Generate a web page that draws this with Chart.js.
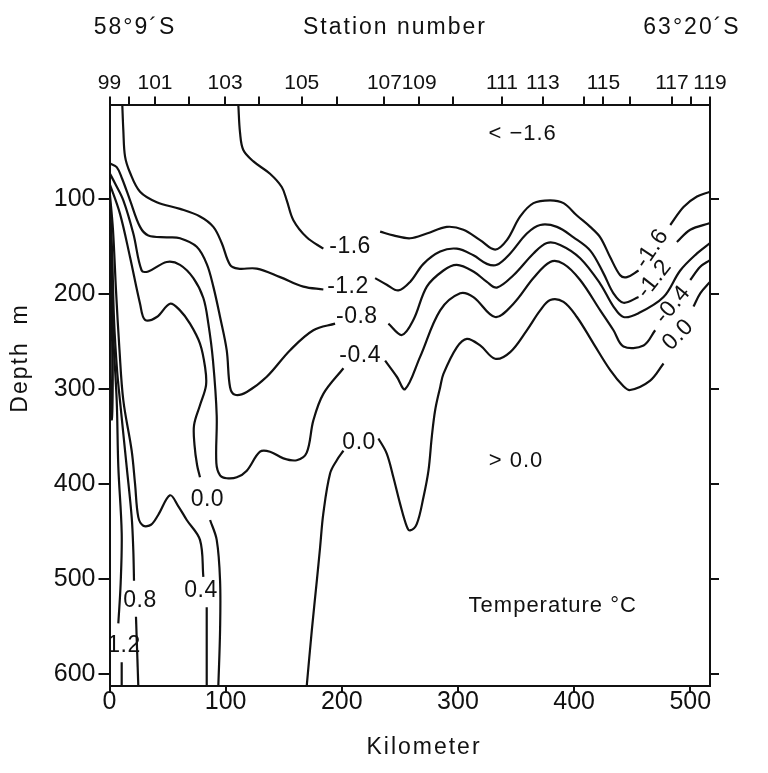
<!DOCTYPE html>
<html>
<head>
<meta charset="utf-8">
<script src="https://cdn.jsdelivr.net/npm/chart.js@4"></script>
<style>
  html, body { margin: 0; padding: 0; background: #fff; }
  canvas { display: block; }
</style>
</head>
<body>
<canvas id="sectionChart" width="768" height="773"></canvas>
<script>
/**************************************
 * TEMPERATURE SECTION (contours)
 **************************************/

/* ---------- AXES ---------- */
const KM_TICKS = [0, 100, 200, 300, 400, 500];
const DEPTH_TICKS = [100, 200, 300, 400, 500, 600];

const STATION_KM = [0, 17.1, 39.2, 68.7, 99.5, 129, 165.5, 196.2, 236.7, 266.6,
  295.6, 337.8, 373.1, 408.7, 425.3, 448.3, 484.2, 500.6, 517];
const STATION_LABELS = ["99", "", "101", "", "103", "", "105", "", "107", "109",
  "", "111", "113", "", "115", "", "117", "", "119"];

/* ---------- CONTOURS: [km, depth m], null = gap for the label ---------- */
const T_M16 = [[110.9,0],[112.4,30],[115.2,48],[123.9,60],[138.2,73],[148.3,87],[152.6,101],
  [158.3,122],[169.8,140],[184.1,152], null,
  [233,134],[244.4,138],[258.8,141],[273.2,136],[290.4,129],[304.7,132],[319.1,143],[332,153],
  [342.1,143],[353.6,118],[365,104],[379.4,101],[390.9,104],[402.4,117],[413.9,129],[422.5,140],
  [431.1,161],[439.7,180],[445.5,182],[455.5,175], null,
  [482.8,127],[494.2,108],[505.8,97],[517,92]];

const T_M12 = [[11,0],[11.9,27],[13.4,55],[17.7,72],[26.3,92],[40.7,103],[60.7,110],[77.9,118],
  [89.4,129],[96.6,146],[103.8,169],[110.9,173],[126.8,173],[146.9,182],[166.9,192],[184.1,195], null,
  [228.7,183],[238.7,190],[248.7,196],[258.8,187],[270.3,168],[284.7,155],[299,152],[313.3,159],
  [324.9,168],[333.5,169],[345,157],[359.3,136],[370.8,127],[385.2,129],[399.5,140],[413.9,154],
  [425.3,178],[433.9,199],[442.5,209],[455.5,203], null,
  [488.5,145],[500,132],[517,125]];

const T_M08 = [[0,62],[6.2,66],[10.8,78],[17.7,101],[26.3,129],[33.4,138],[49.3,140],[60.7,141],
  [75.1,150],[83.7,168],[89.4,192],[95.2,224],[100.9,259],[103.8,298],[108.1,306],[118.2,303],
  [135.4,287],[155.5,259],[175.5,238],[194.2,231], null,
  [240.1,231],[251.7,243],[261.7,227],[273.2,192],[287.5,175],[299,169],[313.3,176],[324.9,187],
  [333.5,193],[347.8,180],[365,157],[376.6,146],[388,148],[405.2,162],[422.5,189],[433.9,213],
  [442.5,224],[455.5,220],[477,203],[491.4,175],[505.8,157],[517,146]];

const T_M04 = [[0,72],[4.7,83],[11.9,101],[20.5,136],[27.7,175],[33.4,176],[49.3,166],[60.7,169],
  [72.2,183],[80.8,204],[85.1,231],[89.1,270],[92.3,328],[92,378],[95.2,391],[100.9,394],
  [109.6,393],[118.2,386],[129.6,366],[138.2,366],[149.7,373],[161.2,375],[169.8,367],[175.5,333],
  [184.1,305],[201.4,278], null,
  [237.3,270],[247.4,287],[254.5,300],[267.4,266],[284.7,217],[301.9,199],[313.3,203],[332,224],
  [347.8,210],[365,183],[379.4,166],[390.9,168],[405.2,185],[422.5,217],[433.9,238],[442.5,255],
  [459.8,254],[469.8,238], null,
  [500,185],[508.6,171],[517,164]];

const T_00_WEST = [[0,83],[9,115],[17.7,161],[26.3,210],[30.6,227],[40.7,224],[52.1,210],[60.7,217],
  [69.3,231],[77.9,252],[82.3,277],[83.1,296],[77.9,317],[72.8,338],[73.2,359],[75.4,380],[77.9,393], null,
  [86.6,438],[92.3,459],[95.2,502],[95.2,554],[93.7,613]];

const T_00_EAST = [[169.8,613],[174.2,554],[178.5,502],[181.3,467],[184.1,431],[189.9,389],[195.7,375],
  [201.4,365], null,
  [231.5,352],[238.7,368],[244.4,393],[250.2,421],[256,445],[258.8,449],[264.6,442],[270.3,414],
  [274.6,386],[277.5,350],[280.4,322],[284.7,298],[287.5,284],[299,256],[307.7,247],[319.1,254],
  [332,268],[345,261],[359.3,238],[370.8,217],[379.4,206],[390.9,208],[402.4,224],[416.7,252],
  [431.1,280],[442.5,297],[448.3,301],[465.5,291],[477,273], null,
  [502.8,213],[508.6,199],[517,187]];

const T_P04 = [[0,90],[3,132],[5.6,196],[8.6,259],[11.9,312],[19.1,365],[22,400],[24.8,435],
  [29.1,444],[35.7,443],[41.8,433],[52.1,412],[59,423],[66.5,438],[77.9,459],[80.8,498], null,
  [83.7,530],[83.7,613]];

const T_P08 = [[0,96],[2.2,154],[3.9,227],[6.5,280],[9,312],[14.8,382],[19.1,435],[20.5,470],
  [21.1,502], null, [22.8,540],[24.8,613]];

const T_P12 = [[0,101],[1.7,164],[3,238],[6.2,312],[7.6,382],[10.5,452],[9.6,505],[7.6,547], null,
  [10.5,588],[10.5,613]];

const T_P16 = [[0.4,130],[1.6,175],[2.4,235],[2.8,290],[2,332],[1,300],[0.6,235],[0.4,130]];

/* ---------- LABELS ON THE SECTION ---------- */
const CONTOUR_LABELS = [
  { text: "-1.6", km: 207.1, depth: 150, angle: 0 },
  { text: "-1.2", km: 205.3, depth: 192, angle: 0 },
  { text: "-0.8", km: 212.9, depth: 224, angle: 0 },
  { text: "-0.4", km: 215.8, depth: 265, angle: 0 },
  { text: "0.0", km: 214.9, depth: 356, angle: 0 },
  { text: "0.0", km: 84.3, depth: 417, angle: 0 },
  { text: "0.4", km: 78.8, depth: 512, angle: 0 },
  { text: "0.8", km: 26.3, depth: 523, angle: 0 },
  { text: "1.2", km: 12.5, depth: 570, angle: 0 },
  { text: "-1.6", km: 467, depth: 152, angle: -56 },
  { text: "-1.2", km: 469, depth: 184, angle: -52 },
  { text: "-0.4", km: 485, depth: 211, angle: -50 },
  { text: "0.0", km: 489.6, depth: 243, angle: -45 }
];
const REGION_LABELS = [
  { text: "< \u22121.6", km: 355.7, depth: 31 },
  { text: "> 0.0", km: 350, depth: 376 },
  { text: "Temperature \u00b0C", km: 381.6, depth: 529 }
];

/* ---------- STYLE ---------- */
const INK = "#111";
const FONT = "'Liberation Sans', Arial, sans-serif";

/* ---------- BUILD DATASETS ---------- */
function splitSegments(points) {
  const segs = [[]];
  points.forEach(p => {
    if (p === null) segs.push([]);
    else segs[segs.length - 1].push({ x: p[0], y: p[1] });
  });
  return segs.filter(s => s.length > 1);
}

const datasets = [];
[T_M16, T_M12, T_M08, T_M04, T_00_WEST, T_00_EAST, T_P04, T_P08, T_P12, T_P16].forEach(c => {
  splitSegments(c).forEach(seg => {
    datasets.push({
      data: seg,
      showLine: true,
      borderColor: INK,
      borderWidth: 2.2,
      pointRadius: 0,
      tension: 0.35,
      fill: false
    });
  });
});

/* ---------- TEXT PLUGIN ---------- */
const textPlugin = {
  id: "sectionText",
  afterDraw(chart) {
    const { ctx } = chart;
    const x = chart.scales.x;
    const y = chart.scales.y;
    ctx.save();
    ctx.fillStyle = INK;
    ctx.textAlign = "center";
    ctx.textBaseline = "middle";

    ctx.font = "23px " + FONT;
    ctx.letterSpacing = "0.5px";
    CONTOUR_LABELS.forEach(l => {
      ctx.save();
      ctx.translate(x.getPixelForValue(l.km), y.getPixelForValue(l.depth));
      ctx.rotate(l.angle * Math.PI / 180);
      ctx.fillText(l.text, 0, 0);
      ctx.restore();
    });

    ctx.font = "22px " + FONT;
    ctx.letterSpacing = "1px";
    REGION_LABELS.forEach(l => {
      ctx.fillText(l.text, x.getPixelForValue(l.km), y.getPixelForValue(l.depth));
    });

    ctx.font = "23px " + FONT;
    ctx.letterSpacing = "2px";
    ctx.fillText("58\u00b09\u00b4S", 135, 28);
    ctx.fillText("Station number", 395, 28);
    ctx.fillText("63\u00b020\u00b4S", 692, 28);
    ctx.fillText("Kilometer", 424, 748);

    ctx.save();
    ctx.translate(21, 358);
    ctx.rotate(-Math.PI / 2);
    ctx.fillText("Depth  m", 0, 0);
    ctx.restore();

    ctx.restore();
  }
};

/* ---------- CHART ---------- */
const tickFont = { family: FONT, size: 25 };

new Chart(document.getElementById("sectionChart"), {
  type: "scatter",
  data: { datasets },
  options: {
    responsive: false,
    animation: false,
    events: [],
    layout: { padding: 0 },
    plugins: { legend: { display: false }, tooltip: { enabled: false } },
    scales: {
      x: {
        type: "linear", position: "bottom", min: 0, max: 517,
        afterBuildTicks: s => { s.ticks = KM_TICKS.map(v => ({ value: v })); },
        afterFit: s => { s.height = 87; },
        ticks: { font: tickFont, color: INK, padding: -6, maxRotation: 0, autoSkip: false },
        grid: { drawOnChartArea: false, tickLength: 7, tickColor: INK, lineWidth: 2 },
        border: { color: INK, width: 2 }
      },
      xs: {
        type: "linear", position: "top", min: 0, max: 517,
        afterBuildTicks: s => { s.ticks = STATION_KM.map(v => ({ value: v })); },
        afterFit: s => { s.height = 104.5; },
        ticks: {
          font: { family: FONT, size: 21 }, color: INK, padding: 1, maxRotation: 0, autoSkip: false,
          callback: (v, i) => STATION_LABELS[i]
        },
        grid: { drawOnChartArea: false, tickLength: 8, tickColor: INK, lineWidth: 2 },
        border: { color: INK, width: 2 }
      },
      y: {
        type: "linear", position: "left", min: 0, max: 613, reverse: true,
        afterBuildTicks: s => { s.ticks = DEPTH_TICKS.map(v => ({ value: v })); },
        afterFit: s => { s.width = 109.5; },
        ticks: { font: tickFont, color: INK, padding: 3 },
        grid: { drawOnChartArea: false, tickLength: 11, tickColor: INK, lineWidth: 2 },
        border: { color: INK, width: 2 }
      },
      yr: {
        type: "linear", position: "right", min: 0, max: 613, reverse: true,
        afterBuildTicks: s => { s.ticks = DEPTH_TICKS.map(v => ({ value: v })); },
        afterFit: s => { s.width = 58; },
        ticks: { display: false },
        grid: { drawOnChartArea: false, tickLength: 9, tickColor: INK, lineWidth: 2 },
        border: { color: INK, width: 2 }
      }
    }
  },
  plugins: [textPlugin]
});
</script>
</body>
</html>
